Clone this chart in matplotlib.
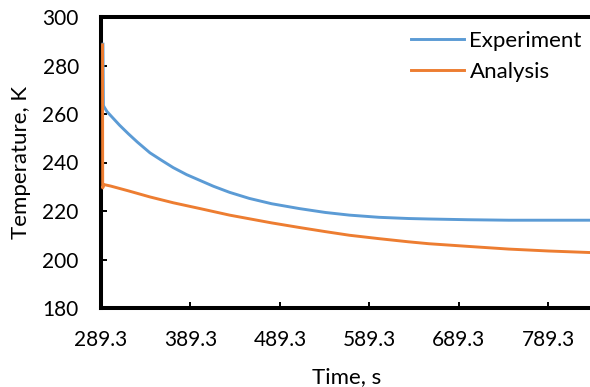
import matplotlib
matplotlib.use("Agg")
from matplotlib import pylab as plt

# time (s) and temperatures (K)
exp_time = [291.5, 292.0, 293, 296, 300, 310, 320, 330, 344, 357, 370, 385, 400,
            415, 433, 455, 480, 511, 540, 567, 600, 633, 656, 700, 745, 790, 834, 850]
exp_temp = [288.8, 263.5, 262.8, 261.0, 259.4, 255.4, 251.8, 248.4, 244.0, 240.9,
            237.9, 235.0, 232.6, 230.2, 227.7, 225.2, 223.0, 221.0, 219.4, 218.3,
            217.4, 216.9, 216.7, 216.4, 216.2, 216.2, 216.2, 216.2]

ana_time = [291.0, 291.2, 292.5, 300, 320, 344, 370, 400, 433, 455, 480, 511, 540,
            567, 600, 633, 656, 700, 745, 790, 834, 850]
ana_temp = [288.5, 229.5, 230.9, 230.3, 228.3, 225.8, 223.4, 221.0, 218.3, 216.8,
            215.1, 213.2, 211.5, 210.0, 208.6, 207.3, 206.5, 205.4, 204.3, 203.5,
            202.9, 202.7]

x_ticks = [289.3, 389.3, 489.3, 589.3, 689.3, 789.3]
x_labels = ["289.3", "389.3", "489.3", "589.3", "689.3", "789.3"]
y_ticks = [180, 200, 220, 240, 260, 280, 300]

plt.rcParams['font.family'] = ['Lato', 'DejaVu Sans']

fig = plt.figure(figsize=(5.9, 3.87), dpi=100)
fig.set_facecolor('white')
# plot area runs slightly past the right edge, as in the source picture
ax = fig.add_axes([101/590, 1-308/387, 492/590, 291/387])

ax.plot(exp_time, exp_temp, color='#5B9BD5', linewidth=2.1, label='Experiment', zorder=3)
ax.plot(ana_time, ana_temp, color='#ED7D31', linewidth=2.1, label='Analysis', zorder=3)

ax.set_xlim(289.3, 839.3)
ax.set_ylim(180, 300)
ax.set_xticks(x_ticks)
ax.set_xticklabels(x_labels)
ax.set_yticks(y_ticks)

for s in ['left', 'bottom', 'top']:
    ax.spines[s].set_linewidth(2.9)
ax.spines['right'].set_visible(False)
ax.tick_params(direction='in', length=4.3, width=1.4, labelsize=15)
ax.tick_params(axis='x', pad=16)
ax.tick_params(axis='y', pad=16)

ax.set_xlabel('Time, s', fontsize=16, labelpad=12)
ax.set_ylabel('Temperature, K', fontsize=16, labelpad=8)

ax.legend(loc='upper left', bbox_to_anchor=(411/590, 1-31/387),
          bbox_transform=fig.transFigure, frameon=False, fontsize=16,
          handlelength=2.4, handletextpad=0.23, labelspacing=0.5,
          borderpad=0, borderaxespad=0)

plt.savefig('out.png', dpi=100)
